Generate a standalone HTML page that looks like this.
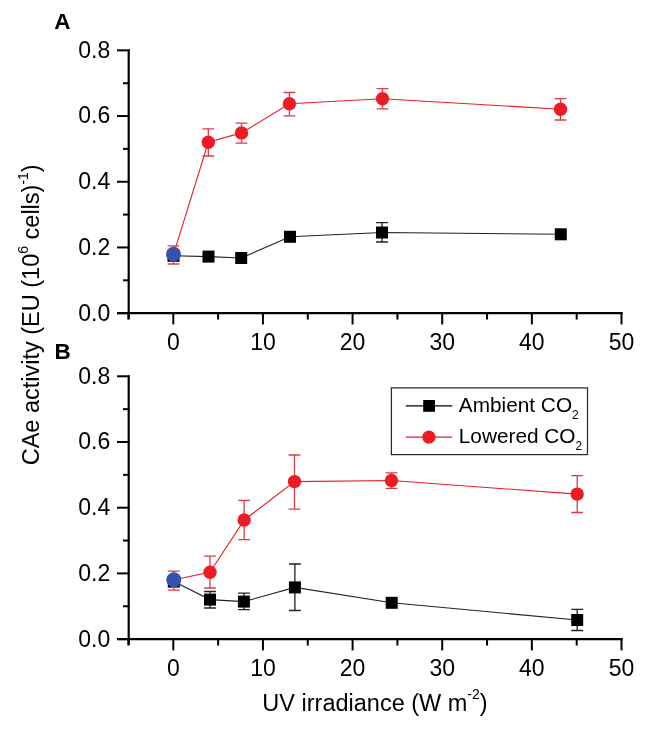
<!DOCTYPE html>
<html><head><meta charset="utf-8"><style>
html,body{margin:0;padding:0;background:#fff;}
body{width:650px;height:731px;overflow:hidden;}
svg{display:block;will-change:transform;}
text{font-family:"Liberation Sans",sans-serif;fill:#000;}
.tk{font-size:23px;}
.at{font-size:23.5px;}
.lg{font-size:20.8px;}
.pl{font-size:22.5px;font-weight:bold;}
.sup{font-size:14px;}
.sub{font-size:12px;}
</style></head><body>
<svg width="650" height="731" viewBox="0 0 650 731">
<rect width="650" height="731" fill="#fff"/>
<line x1="128.7" y1="49.25" x2="128.7" y2="319.15" stroke="#000" stroke-width="2.2"/>
<line x1="117" y1="313.15" x2="622.60" y2="313.15" stroke="#000" stroke-width="2.2"/>
<line x1="117" y1="50.35" x2="129.5" y2="50.35" stroke="#000" stroke-width="2"/>
<text x="110.3" y="57.75" class="tk" text-anchor="end">0.8</text>
<line x1="117" y1="116.05" x2="129.5" y2="116.05" stroke="#000" stroke-width="2"/>
<text x="110.3" y="123.45" class="tk" text-anchor="end">0.6</text>
<line x1="117" y1="181.75" x2="129.5" y2="181.75" stroke="#000" stroke-width="2"/>
<text x="110.3" y="189.15" class="tk" text-anchor="end">0.4</text>
<line x1="117" y1="247.45" x2="129.5" y2="247.45" stroke="#000" stroke-width="2"/>
<text x="110.3" y="254.85" class="tk" text-anchor="end">0.2</text>
<line x1="117" y1="313.15" x2="129.5" y2="313.15" stroke="#000" stroke-width="2"/>
<text x="110.3" y="320.55" class="tk" text-anchor="end">0.0</text>
<line x1="123" y1="83.20" x2="129.5" y2="83.20" stroke="#000" stroke-width="2"/>
<line x1="123" y1="148.90" x2="129.5" y2="148.90" stroke="#000" stroke-width="2"/>
<line x1="123" y1="214.60" x2="129.5" y2="214.60" stroke="#000" stroke-width="2"/>
<line x1="123" y1="280.30" x2="129.5" y2="280.30" stroke="#000" stroke-width="2"/>
<line x1="173.30" y1="312.15" x2="173.30" y2="324.45" stroke="#000" stroke-width="2"/>
<text x="173.30" y="350.25" class="tk" text-anchor="middle">0</text>
<line x1="262.94" y1="312.15" x2="262.94" y2="324.45" stroke="#000" stroke-width="2"/>
<text x="262.94" y="350.25" class="tk" text-anchor="middle">10</text>
<line x1="352.58" y1="312.15" x2="352.58" y2="324.45" stroke="#000" stroke-width="2"/>
<text x="352.58" y="350.25" class="tk" text-anchor="middle">20</text>
<line x1="442.22" y1="312.15" x2="442.22" y2="324.45" stroke="#000" stroke-width="2"/>
<text x="442.22" y="350.25" class="tk" text-anchor="middle">30</text>
<line x1="531.86" y1="312.15" x2="531.86" y2="324.45" stroke="#000" stroke-width="2"/>
<text x="531.86" y="350.25" class="tk" text-anchor="middle">40</text>
<line x1="621.50" y1="312.15" x2="621.50" y2="324.45" stroke="#000" stroke-width="2"/>
<text x="621.50" y="350.25" class="tk" text-anchor="middle">50</text>
<line x1="128.48" y1="312.15" x2="128.48" y2="319.55" stroke="#000" stroke-width="2"/>
<line x1="218.12" y1="312.15" x2="218.12" y2="319.55" stroke="#000" stroke-width="2"/>
<line x1="307.76" y1="312.15" x2="307.76" y2="319.55" stroke="#000" stroke-width="2"/>
<line x1="397.40" y1="312.15" x2="397.40" y2="319.55" stroke="#000" stroke-width="2"/>
<line x1="487.04" y1="312.15" x2="487.04" y2="319.55" stroke="#000" stroke-width="2"/>
<line x1="576.68" y1="312.15" x2="576.68" y2="319.55" stroke="#000" stroke-width="2"/>
<path d="M173.5,255.8 L208.5,256.6 L241.2,258.0 L290.0,236.8 L382.0,232.5 L560.8,234.3" fill="none" stroke="#222" stroke-width="1.1"/>
<path d="M382.0,222.6V242.0M376.1,222.6H387.9M376.1,242.0H387.9" stroke="#222" stroke-width="1.3" fill="none"/>
<rect x="167.5" y="249.8" width="12" height="12" fill="#000"/>
<rect x="202.5" y="250.6" width="12" height="12" fill="#000"/>
<rect x="235.2" y="252.0" width="12" height="12" fill="#000"/>
<rect x="284.0" y="230.8" width="12" height="12" fill="#000"/>
<rect x="376.0" y="226.5" width="12" height="12" fill="#000"/>
<rect x="554.8" y="228.3" width="12" height="12" fill="#000"/>
<path d="M173.5,254.4 L208.3,142.3 L241.5,132.9 L289.4,103.7 L382.5,98.7 L560.5,109.3" fill="none" stroke="#ec1c24" stroke-width="1.1"/>
<path d="M173.5,245.8V264.0M167.6,245.8H179.4M167.6,264.0H179.4" stroke="#dc3a48" stroke-width="1.3" fill="none"/>
<path d="M208.3,128.9V156.0M202.4,128.9H214.2M202.4,156.0H214.2" stroke="#dc3a48" stroke-width="1.3" fill="none"/>
<path d="M241.5,123.1V143.1M235.6,123.1H247.4M235.6,143.1H247.4" stroke="#dc3a48" stroke-width="1.3" fill="none"/>
<path d="M289.4,92.5V115.8M283.5,92.5H295.3M283.5,115.8H295.3" stroke="#dc3a48" stroke-width="1.3" fill="none"/>
<path d="M382.5,88.6V108.8M376.6,88.6H388.4M376.6,108.8H388.4" stroke="#dc3a48" stroke-width="1.3" fill="none"/>
<path d="M560.5,98.7V120.0M554.6,98.7H566.4M554.6,120.0H566.4" stroke="#dc3a48" stroke-width="1.3" fill="none"/>
<circle cx="173.5" cy="254.4" r="6.7" fill="#ec1c24"/>
<circle cx="208.3" cy="142.3" r="6.7" fill="#ec1c24"/>
<circle cx="241.5" cy="132.9" r="6.7" fill="#ec1c24"/>
<circle cx="289.4" cy="103.7" r="6.7" fill="#ec1c24"/>
<circle cx="382.5" cy="98.7" r="6.7" fill="#ec1c24"/>
<circle cx="560.5" cy="109.3" r="6.7" fill="#ec1c24"/>
<circle cx="173.5" cy="254.2" r="7.5" fill="#3552ad"/>
<line x1="128.7" y1="375.20" x2="128.7" y2="645.10" stroke="#000" stroke-width="2.2"/>
<line x1="117" y1="639.10" x2="622.60" y2="639.10" stroke="#000" stroke-width="2.2"/>
<line x1="117" y1="376.30" x2="129.5" y2="376.30" stroke="#000" stroke-width="2"/>
<text x="110.3" y="383.70" class="tk" text-anchor="end">0.8</text>
<line x1="117" y1="442.00" x2="129.5" y2="442.00" stroke="#000" stroke-width="2"/>
<text x="110.3" y="449.40" class="tk" text-anchor="end">0.6</text>
<line x1="117" y1="507.70" x2="129.5" y2="507.70" stroke="#000" stroke-width="2"/>
<text x="110.3" y="515.10" class="tk" text-anchor="end">0.4</text>
<line x1="117" y1="573.40" x2="129.5" y2="573.40" stroke="#000" stroke-width="2"/>
<text x="110.3" y="580.80" class="tk" text-anchor="end">0.2</text>
<line x1="117" y1="639.10" x2="129.5" y2="639.10" stroke="#000" stroke-width="2"/>
<text x="110.3" y="646.50" class="tk" text-anchor="end">0.0</text>
<line x1="123" y1="409.15" x2="129.5" y2="409.15" stroke="#000" stroke-width="2"/>
<line x1="123" y1="474.85" x2="129.5" y2="474.85" stroke="#000" stroke-width="2"/>
<line x1="123" y1="540.55" x2="129.5" y2="540.55" stroke="#000" stroke-width="2"/>
<line x1="123" y1="606.25" x2="129.5" y2="606.25" stroke="#000" stroke-width="2"/>
<line x1="173.30" y1="638.10" x2="173.30" y2="650.40" stroke="#000" stroke-width="2"/>
<text x="173.30" y="676.20" class="tk" text-anchor="middle">0</text>
<line x1="262.94" y1="638.10" x2="262.94" y2="650.40" stroke="#000" stroke-width="2"/>
<text x="262.94" y="676.20" class="tk" text-anchor="middle">10</text>
<line x1="352.58" y1="638.10" x2="352.58" y2="650.40" stroke="#000" stroke-width="2"/>
<text x="352.58" y="676.20" class="tk" text-anchor="middle">20</text>
<line x1="442.22" y1="638.10" x2="442.22" y2="650.40" stroke="#000" stroke-width="2"/>
<text x="442.22" y="676.20" class="tk" text-anchor="middle">30</text>
<line x1="531.86" y1="638.10" x2="531.86" y2="650.40" stroke="#000" stroke-width="2"/>
<text x="531.86" y="676.20" class="tk" text-anchor="middle">40</text>
<line x1="621.50" y1="638.10" x2="621.50" y2="650.40" stroke="#000" stroke-width="2"/>
<text x="621.50" y="676.20" class="tk" text-anchor="middle">50</text>
<line x1="128.48" y1="638.10" x2="128.48" y2="645.50" stroke="#000" stroke-width="2"/>
<line x1="218.12" y1="638.10" x2="218.12" y2="645.50" stroke="#000" stroke-width="2"/>
<line x1="307.76" y1="638.10" x2="307.76" y2="645.50" stroke="#000" stroke-width="2"/>
<line x1="397.40" y1="638.10" x2="397.40" y2="645.50" stroke="#000" stroke-width="2"/>
<line x1="487.04" y1="638.10" x2="487.04" y2="645.50" stroke="#000" stroke-width="2"/>
<line x1="576.68" y1="638.10" x2="576.68" y2="645.50" stroke="#000" stroke-width="2"/>
<path d="M173.8,581.6 L210.0,599.6 L243.9,601.6 L294.9,587.4 L391.7,602.8 L577.2,620.0" fill="none" stroke="#222" stroke-width="1.1"/>
<path d="M210.0,591.5V608.0M204.1,591.5H215.9M204.1,608.0H215.9" stroke="#222" stroke-width="1.3" fill="none"/>
<path d="M243.9,593.2V609.6M238.0,593.2H249.8M238.0,609.6H249.8" stroke="#222" stroke-width="1.3" fill="none"/>
<path d="M294.9,564.0V610.5M289.0,564.0H300.8M289.0,610.5H300.8" stroke="#222" stroke-width="1.3" fill="none"/>
<path d="M577.2,609.4V630.5M571.3,609.4H583.1M571.3,630.5H583.1" stroke="#222" stroke-width="1.3" fill="none"/>
<rect x="167.8" y="575.6" width="12" height="12" fill="#000"/>
<rect x="204.0" y="593.6" width="12" height="12" fill="#000"/>
<rect x="237.9" y="595.6" width="12" height="12" fill="#000"/>
<rect x="288.9" y="581.4" width="12" height="12" fill="#000"/>
<rect x="385.7" y="596.8" width="12" height="12" fill="#000"/>
<rect x="571.2" y="614.0" width="12" height="12" fill="#000"/>
<path d="M173.8,579.8 L210.0,572.2 L244.2,520.0 L294.5,481.6 L391.5,480.5 L577.2,494.1" fill="none" stroke="#ec1c24" stroke-width="1.1"/>
<path d="M173.8,571.2V590.1M167.9,571.2H179.7M167.9,590.1H179.7" stroke="#dc3a48" stroke-width="1.3" fill="none"/>
<path d="M210.0,556.2V588.0M204.1,556.2H215.9M204.1,588.0H215.9" stroke="#dc3a48" stroke-width="1.3" fill="none"/>
<path d="M244.2,500.4V539.6M238.3,500.4H250.1M238.3,539.6H250.1" stroke="#dc3a48" stroke-width="1.3" fill="none"/>
<path d="M294.5,455.0V509.1M288.6,455.0H300.4M288.6,509.1H300.4" stroke="#dc3a48" stroke-width="1.3" fill="none"/>
<path d="M391.5,472.9V488.4M385.6,472.9H397.4M385.6,488.4H397.4" stroke="#dc3a48" stroke-width="1.3" fill="none"/>
<path d="M577.2,475.7V512.5M571.3,475.7H583.1M571.3,512.5H583.1" stroke="#dc3a48" stroke-width="1.3" fill="none"/>
<circle cx="173.8" cy="579.8" r="6.7" fill="#ec1c24"/>
<circle cx="210.0" cy="572.2" r="6.7" fill="#ec1c24"/>
<circle cx="244.2" cy="520.0" r="6.7" fill="#ec1c24"/>
<circle cx="294.5" cy="481.6" r="6.7" fill="#ec1c24"/>
<circle cx="391.5" cy="480.5" r="6.7" fill="#ec1c24"/>
<circle cx="577.2" cy="494.1" r="6.7" fill="#ec1c24"/>
<circle cx="173.8" cy="579.8" r="7.5" fill="#3552ad"/>
<rect x="391.4" y="387.9" width="196.1" height="66.7" fill="#fff" stroke="#2a2a2a" stroke-width="1.25"/>
<line x1="405.8" y1="405.8" x2="452.2" y2="405.8" stroke="#000" stroke-width="1.3"/>
<rect x="423.2" y="400" width="11.8" height="11.8" fill="#000"/>
<line x1="405.8" y1="437.1" x2="452.2" y2="437.1" stroke="#ec1c24" stroke-width="1.3"/>
<circle cx="428.9" cy="437.1" r="6.6" fill="#ec1c24"/>
<text x="458.8" y="412.4" class="lg">Ambient CO<tspan class="sub" dy="7">2</tspan></text>
<text x="458.8" y="443.1" class="lg">Lowered CO<tspan class="sub" dy="7">2</tspan></text>
<text x="54.3" y="29" class="pl">A</text>
<text x="54.5" y="359.3" class="pl">B</text>
<text x="375" y="710.5" class="at" text-anchor="middle">UV irradiance (W m<tspan class="sup" dy="-11.5">-2</tspan><tspan dy="11.5">)</tspan></text>
<text transform="translate(39.4,314.8) rotate(-90)" class="at" text-anchor="middle">CAe activity (EU (10<tspan class="sup" dy="-11.5">6</tspan><tspan dy="11.5"> cells)</tspan><tspan class="sup" dy="-11.5">-1</tspan><tspan dy="11.5">)</tspan></text>
</svg>
</body></html>
